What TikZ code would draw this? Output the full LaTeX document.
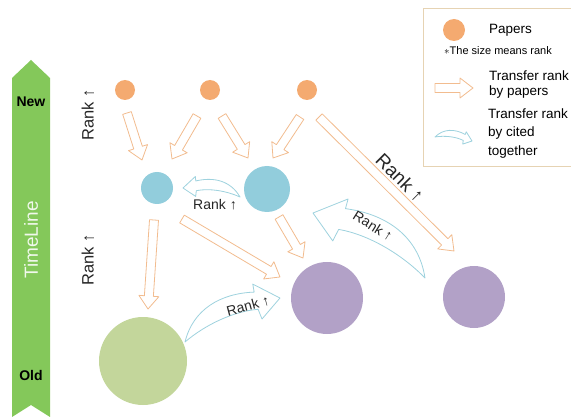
\documentclass[tikz,border=0pt]{standalone}
\usepackage{fontspec}
\setmainfont{Liberation Sans}
\usetikzlibrary{calc}

\definecolor{papercol}{HTML}{F4AA70}
\definecolor{bluecol}{HTML}{92CDDC}
\definecolor{purplecol}{HTML}{B2A1C7}
\definecolor{greencol}{HTML}{C3D69B}
\definecolor{timecol}{HTML}{84C85A}
\definecolor{orangeline}{HTML}{F2BC8F}
\definecolor{cyanline}{HTML}{9ED2DE}
\definecolor{legline}{HTML}{E6D3B3}

\tikzset{
  rankdot/.style={circle, inner sep=0pt, minimum size=#1},
  paperarrow/.style={draw=orangeline, fill=white, line width=0.8pt, line join=round},
  citedarrow/.style={draw=cyanline, fill=white, line width=0.8pt, line join=round},
  ranklabel/.style={inner sep=0pt, text=black!85, font=\fontsize{#1}{#1}\selectfont},
  legtext/.style={inner sep=0pt, anchor=west, align=left}
}

% hollow straight arrow from #1 to #2
\newcommand\rankarrow[2]{%
  \path let \p1=#1, \p2=#2 in \pgfextra{%
    \pgfmathanglebetweenpoints{\pgfpoint{\x1}{\y1}}{\pgfpoint{\x2}{\y2}}%
    \xdef\arrang{\pgfmathresult}%
    \pgfmathveclen{(\x2)-(\x1)}{(\y2)-(\y1)}%
    \xdef\arrlen{\pgfmathresult}};
  \draw[paperarrow, shift={#1}, rotate=\arrang]
    (0pt,-4.5pt) -- ({\arrlen pt-13pt},-4.5pt) -- ({\arrlen pt-13pt},-10pt)
    -- ({\arrlen pt},0pt) -- ({\arrlen pt-13pt},10pt) -- ({\arrlen pt-13pt},4.5pt)
    -- (0pt,4.5pt) -- cycle;}

% hollow curved arrow from #2 to #3, #1 = side of the bend
\newcommand\citearrow[3][1]{%
  \path let \p1=#2, \p2=#3 in \pgfextra{%
    \pgfmathanglebetweenpoints{\pgfpoint{\x1}{\y1}}{\pgfpoint{\x2}{\y2}}%
    \xdef\arrang{\pgfmathresult}%
    \pgfmathveclen{(\x2)-(\x1)}{(\y2)-(\y1)}%
    \xdef\arrlen{\pgfmathresult}};
  \draw[citedarrow, shift={#2}, rotate=\arrang, yscale=#1, scale={\arrlen/100}]
    (0,0) .. controls (20,25) and (50,28) .. (80,15.5) -- (82,23)
    -- (100,0) -- (76,-11) -- (76.5,-1)
    .. controls (55,7) and (25,7) .. cycle;}

\begin{document}
\begin{tikzpicture}[x=1pt, y=-1pt]
\useasboundingbox (0,0) rectangle (571,417);

% Timeline
\fill[timecol] (12,78) -- (31,60) -- (50,78) -- (50,417) -- (31,405) -- (12,417) -- cycle;
\node[inner sep=0pt, font=\bfseries\fontsize{14}{14}\selectfont] (new) at (31,102) {New};
\node[inner sep=0pt, font=\bfseries\fontsize{14}{14}\selectfont] (old) at (31,375) {Old};
\node[inner sep=0pt, rotate=90, text=white!88!timecol, font=\fontsize{19}{19}\selectfont] (time) at (31,240) {TimeLine};

% Papers
\node[rankdot=20pt, fill=papercol] (p1) at (125,90) {};
\node[rankdot=20pt, fill=papercol] (p2) at (210,90) {};
\node[rankdot=20pt, fill=papercol] (p3) at (307,90) {};
\node[rankdot=32pt, fill=bluecol] (b1) at (157,188) {};
\node[rankdot=46pt, fill=bluecol] (b2) at (267,189) {};
\node[rankdot=72pt, fill=purplecol] (m1) at (327,298) {};
\node[rankdot=62pt, fill=purplecol] (m2) at (474,297) {};
\node[rankdot=88pt, fill=greencol] (g) at (143,361) {};

% Transfer rank by papers
\rankarrow{($(p1)+(2,23)$)}{($(b1)+(-15,-28)$)}
\rankarrow{($(p2)+(-13,26)$)}{($(b1)+(15,-29)$)}
\rankarrow{($(p2)+(12,26)$)}{($(b2)+(-19,-31)$)}
\rankarrow{($(p3)+(-7,27)$)}{($(b2)+(6,-31)$)}
\rankarrow{($(p3)+(12,27)$)}{($(m2)+(-20,-46)$)}
\rankarrow{($(b1)+(-3,32)$)}{($(g)+(5,-52)$)}
\rankarrow{($(b1)+(25,31)$)}{($(m1)+(-47,-21)$)}
\rankarrow{($(b2)+(12,28)$)}{($(m1)+(-24,-40)$)}

% Transfer rank by cited together
\citearrow{($(b2)+(-27,8)$)}{($(b1)+(26,0)$)}
\citearrow{($(m2)+(-49,-19)$)}{($(b2)+(46,24)$)}
\citearrow[-1]{($(g)+(42,-19)$)}{($(m1)+(-47,0)$)}

% Rank labels
\node[ranklabel=16.5, rotate=90] (r1) at (88,115) {Rank ↑};
\node[ranklabel=16.5, rotate=90] (r2) at (88,260) {Rank ↑};
\node[ranklabel=19, rotate=-45] (r3) at (400,178) {Rank ↑};
\node[ranklabel=14] (r4) at (215,205) {Rank ↑};
\node[ranklabel=14, rotate=-32] (r5) at (373,226) {Rank ↑};
\node[ranklabel=14, rotate=15] (r6) at (248,306) {Rank ↑};

% Legend
\draw[legline, line width=0.8pt] (575,8) -- (423,8) -- (423,166) -- (575,166);
\node[rankdot=22pt, fill=papercol] (lp) at (454,30) {};
\node[legtext, font=\fontsize{13.5}{15}\selectfont] (lpt) at (489,30) {Papers};
\node[legtext, font=\fontsize{11}{12}\selectfont] (lnote) at (444,51) {$\ast$The size means rank};
\coordinate (la1) at (435,88);
\coordinate (lb1) at (473,88);
\rankarrow{(la1)}{(lb1)}
\node[legtext, font=\fontsize{13.5}{15}\selectfont] (lt1) at (489,84.5) {Transfer rank\\by papers};
\coordinate (la2) at (435,137);
\coordinate (lb2) at (472,141);
\citearrow[-1]{(la2)}{(lb2)}
\node[legtext, font=\fontsize{13.5}{18.5}\selectfont] (lt2) at (488,133.5) {Transfer rank\\by cited\\together};

\end{tikzpicture}
\end{document}
